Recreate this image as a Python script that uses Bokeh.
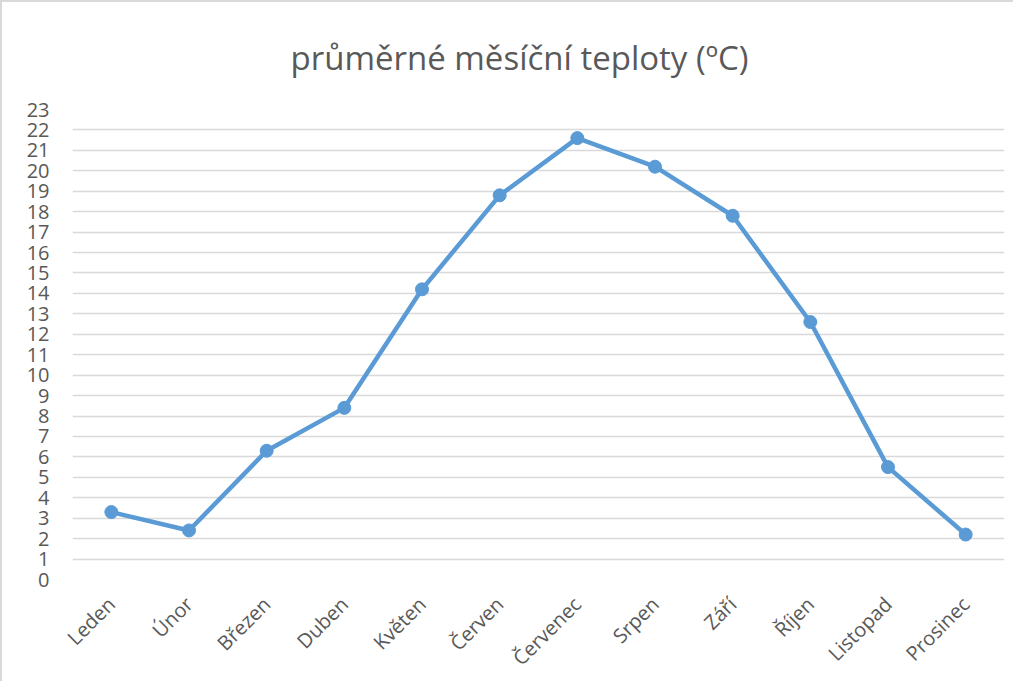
import math
from bokeh.plotting import figure
from bokeh.models import ColumnDataSource, FixedTicker, Range1d
from bokeh.embed import file_html
from bokeh.resources import INLINE

months = ["Leden", "Únor", "Březen", "Duben", "Květen", "Červen",
          "Červenec", "Srpen", "Září", "Říjen", "Listopad", "Prosinec"]
temps = [3.3, 2.4, 6.3, 8.4, 14.2, 18.8, 21.6, 20.2, 17.8, 12.6, 5.5, 2.2]
y_ticks = list(range(0, 24))
title_text = "průměrné měsíční teploty (ºC)"

FONT = "Open Sans"
TXT = "#595959"
LINE = "#5B9BD5"

src = ColumnDataSource(dict(m=months, t=temps))

p = figure(x_range=months, y_range=Range1d(0, 23), width=1013, height=681,
           output_backend="svg", toolbar_location=None,
           min_border_left=70, min_border_right=11, min_border_top=107,
           min_border_bottom=101)
p.x_range.range_padding = 0
p.styles = {"border-left": "2px solid #D9D9D9", "border-top": "2px solid #D9D9D9"}

p.title.text = title_text
p.title.align = "left"
p.title.text_font = FONT
p.title.text_font_size = "33px"
p.title.text_font_style = "normal"
p.title.text_color = TXT
p.title.standoff = 60
p.title.offset = 218

p.outline_line_color = None
p.xgrid.grid_line_color = None
p.ygrid.grid_line_color = "#D9D9D9"
p.ygrid.grid_line_width = 1.5
p.ygrid.ticker = FixedTicker(ticks=y_ticks)

p.yaxis.ticker = FixedTicker(ticks=y_ticks)
p.yaxis.axis_line_color = None
p.yaxis.major_tick_line_color = None
p.yaxis.minor_tick_line_color = None
p.yaxis.major_label_standoff = 17
p.yaxis.major_label_text_font = FONT
p.yaxis.major_label_text_font_size = "20px"
p.yaxis.major_label_text_color = TXT

p.xaxis.axis_line_color = None
p.xaxis.major_tick_line_color = None
p.xaxis.major_label_orientation = math.pi / 4
p.xaxis.major_label_standoff = 15
p.xaxis.major_label_text_font = FONT
p.xaxis.major_label_text_font_size = "20px"
p.xaxis.major_label_text_color = TXT

p.line("m", "t", source=src, line_color=LINE, line_width=4.5, line_join="round")
p.scatter("m", "t", source=src, size=13, fill_color=LINE, line_color=LINE)

open("out.html", "w").write(file_html(p, INLINE))
